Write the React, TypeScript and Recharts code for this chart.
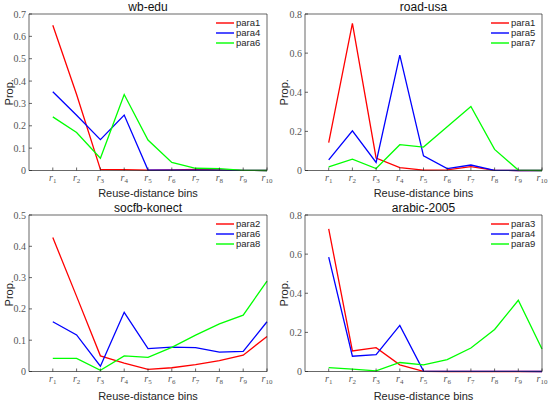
import React from 'react';
import { LineChart, Line, XAxis, YAxis } from 'recharts';

const bins = [1, 2, 3, 4, 5, 6, 7, 8, 9, 10];

// wb-edu
const wbPara1 = [0.65, 0.34, 0.005, 0.004, 0.002, 0.003, 0.005, 0.003, 0.001, 0];
const wbPara4 = [0.352, 0.247, 0.138, 0.248, 0.002, 0.002, 0.002, 0.002, 0.001, 0];
const wbPara6 = [0.24, 0.17, 0.055, 0.34, 0.136, 0.036, 0.01, 0.008, 0.001, 0];

// road-usa
const roadPara1 = [0.142, 0.752, 0.064, 0.015, 0.002, 0.003, 0.02, 0.001, 0, 0];
const roadPara5 = [0.054, 0.203, 0.041, 0.59, 0.075, 0.01, 0.028, 0.001, 0, 0];
const roadPara7 = [0.018, 0.058, 0.01, 0.132, 0.12, 0.224, 0.327, 0.108, 0.002, 0];

// socfb-konect
const socPara2 = [0.428, 0.24, 0.05, 0.027, 0.007, 0.012, 0.022, 0.035, 0.052, 0.112];
const socPara6 = [0.159, 0.117, 0.017, 0.189, 0.073, 0.078, 0.076, 0.062, 0.064, 0.159];
const socPara8 = [0.042, 0.042, 0.004, 0.05, 0.045, 0.077, 0.116, 0.152, 0.18, 0.289];

// arabic-2005
const arPara3 = [0.729, 0.105, 0.122, 0.034, 0.001, 0, 0, 0, 0, 0];
const arPara4 = [0.585, 0.078, 0.086, 0.236, 0.002, 0.001, 0.001, 0.001, 0.001, 0];
const arPara9 = [0.02, 0.012, 0.003, 0.046, 0.034, 0.061, 0.12, 0.215, 0.364, 0.115];

const ticks07 = [0, 0.1, 0.2, 0.3, 0.4, 0.5, 0.6, 0.7];
const ticks08 = [0, 0.2, 0.4, 0.6, 0.8];
const ticks05 = [0, 0.1, 0.2, 0.3, 0.4, 0.5];

const RED = '#ff0000';
const BLUE = '#0000ff';
const GREEN = '#00ff00';
const COLORS = [RED, BLUE, GREEN];
const AXIS = '#262626';
const SANS = "'Liberation Sans', Arial, sans-serif";

const BinTick = (props: any) => {
  const { x, y, payload } = props;
  return (
    <text x={x} y={y + 7} textAnchor="middle" fill="#555" fontFamily="'Liberation Serif', serif">
      <tspan fontStyle="italic" fontSize={10}>r</tspan>
      <tspan fontSize={7} dy={2}>{payload.value}</tspan>
    </text>
  );
};

const LegendBox = ({ names, left, top }: { names: string[]; left: number; top: number }) => (
  <div style={{ position: 'absolute', left, top, fontFamily: SANS, fontSize: 9.5, color: AXIS }}>
    {names.map((n, i) => (
      <div key={n} style={{ height: 10, lineHeight: '10px', whiteSpace: 'nowrap' }}>
        <svg width={20} height={10} style={{ verticalAlign: 'top' }}>
          <line x1={0} y1={5} x2={18} y2={5} stroke={COLORS[i]} strokeWidth={1.4} />
        </svg>
        {n}
      </div>
    ))}
  </div>
);

interface PanelProps {
  title: string;
  left: number;
  top: number;
  height: number;
  yAxisW: number;
  yMax: number;
  yTicks: number[];
  names: string[];
  s1: number[];
  s2: number[];
  s3: number[];
}

const Panel = ({ title, left, top, height, yAxisW, yMax, yTicks, names, s1, s2, s3 }: PanelProps) => {
  const data = bins.map((b, i) => ({ bin: b, a: s1[i], b: s2[i], c: s3[i] }));
  const plotLeft = yAxisW;
  const plotRight = 275 - 8;
  return (
    <div style={{ position: 'absolute', left, top, width: 275, height }}>
      <div
        style={{
          position: 'absolute',
          left: plotLeft,
          width: plotRight - plotLeft,
          top: 0,
          textAlign: 'center',
          fontFamily: SANS,
          fontSize: 12,
          lineHeight: '14px',
          color: '#111',
        }}
      >
        {title}
      </div>
      <LineChart width={275} height={height} data={data} margin={{ top: 13, right: 7, bottom: 0, left: 0 }}>
        <XAxis
          xAxisId="bottom"
          dataKey="bin"
          type="number"
          domain={[0, 10]}
          ticks={bins}
          height={height - 14 - 156.5}
          stroke={AXIS}
          strokeWidth={0.7}
          tickSize={-3}
          tickMargin={6}
          tick={<BinTick />}
          label={{ value: 'Reuse-distance bins', position: 'insideBottom', offset: 3, fontSize: 11, fill: AXIS, fontFamily: SANS }}
        />
        <XAxis
          xAxisId="top"
          dataKey="bin"
          type="number"
          orientation="top"
          domain={[0, 10]}
          ticks={bins}
          height={1}
          stroke={AXIS}
          strokeWidth={0.7}
          tickSize={-3}
          tick={false}
        />
        <YAxis
          yAxisId="left"
          type="number"
          domain={[0, yMax]}
          ticks={yTicks}
          width={yAxisW}
          stroke={AXIS}
          strokeWidth={0.7}
          tickSize={-3}
          tickMargin={6}
          tick={{ fontSize: 10, fill: '#555', fontFamily: "'Liberation Serif', serif" }}
          label={{ value: 'Prop.', angle: -90, position: 'insideLeft', offset: 9, fontSize: 11, fill: AXIS, fontFamily: SANS, style: { textAnchor: 'middle' } }}
        />
        <YAxis
          yAxisId="right"
          type="number"
          orientation="right"
          domain={[0, yMax]}
          ticks={yTicks}
          width={1}
          stroke={AXIS}
          strokeWidth={0.7}
          tickSize={-3}
          tick={false}
        />
        <Line xAxisId="bottom" yAxisId="left" type="linear" dataKey="a" name={names[0]} stroke={RED} strokeWidth={1.3} dot={false} isAnimationActive={false} />
        <Line xAxisId="bottom" yAxisId="left" type="linear" dataKey="b" name={names[1]} stroke={BLUE} strokeWidth={1.3} dot={false} isAnimationActive={false} />
        <Line xAxisId="bottom" yAxisId="left" type="linear" dataKey="c" name={names[2]} stroke={GREEN} strokeWidth={1.3} dot={false} isAnimationActive={false} />
      </LineChart>
      <LegendBox names={names} left={plotRight - 51} top={18} />
    </div>
  );
};

export default function App() {
  return (
    <div style={{ position: 'absolute', left: 0, top: 0, width: 550, height: 403, background: '#fff' }}>
      <Panel title="wb-edu" left={0} top={0} height={200} yAxisW={29} yMax={0.7} yTicks={ticks07}
        names={['para1', 'para4', 'para6']} s1={wbPara1} s2={wbPara4} s3={wbPara6} />
      <Panel title="road-usa" left={275} top={0} height={200} yAxisW={30} yMax={0.8} yTicks={ticks08}
        names={['para1', 'para5', 'para7']} s1={roadPara1} s2={roadPara5} s3={roadPara7} />
      <Panel title="socfb-konect" left={0} top={201} height={202} yAxisW={29} yMax={0.5} yTicks={ticks05}
        names={['para2', 'para6', 'para8']} s1={socPara2} s2={socPara6} s3={socPara8} />
      <Panel title="arabic-2005" left={275} top={201} height={202} yAxisW={30} yMax={0.8} yTicks={ticks08}
        names={['para3', 'para4', 'para9']} s1={arPara3} s2={arPara4} s3={arPara9} />
    </div>
  );
}
